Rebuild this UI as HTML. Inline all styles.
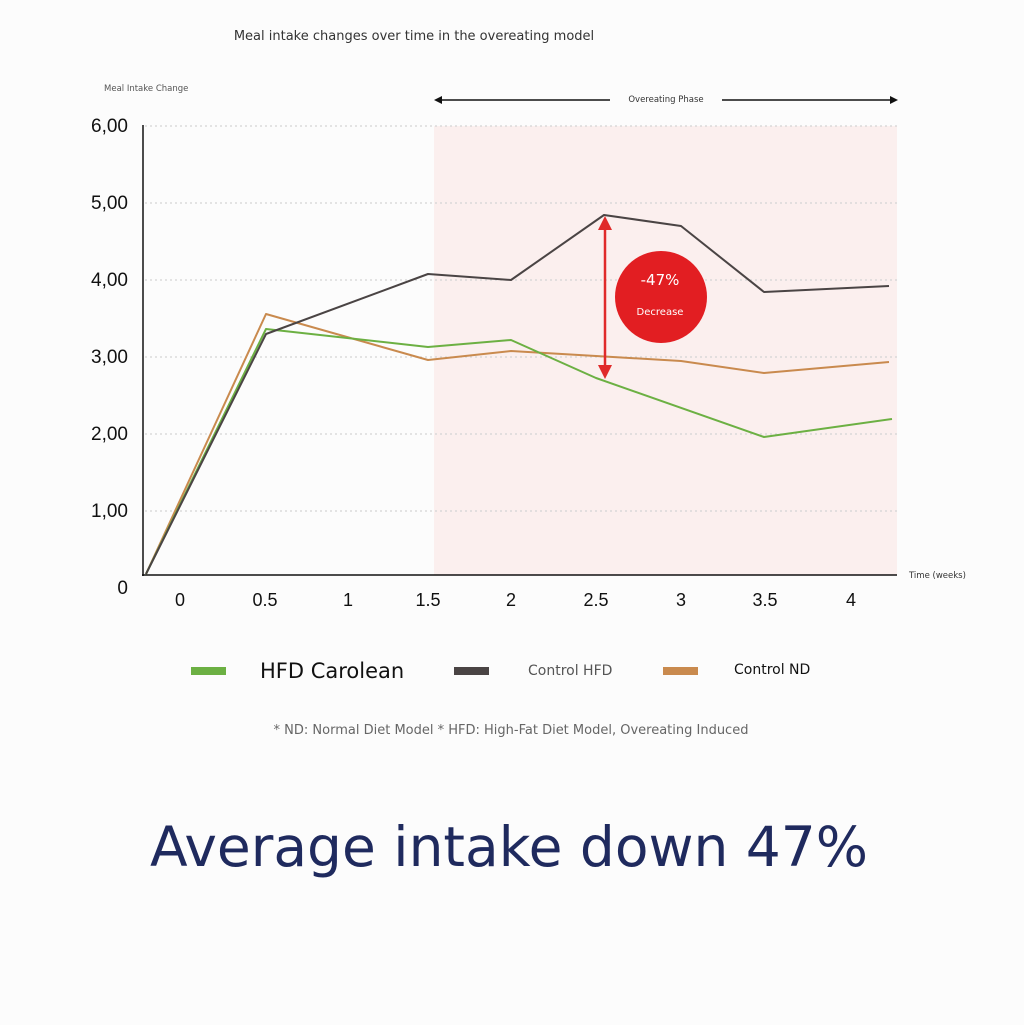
<!DOCTYPE html>
<html><head><meta charset="utf-8"><style>
html,body{margin:0;padding:0;background:#fcfcfc;}
svg{display:block;font-family:"Liberation Sans","DejaVu Sans",sans-serif;}
</style></head><body>
<svg width="1024" height="1025" viewBox="0 0 1024 1025" xmlns="http://www.w3.org/2000/svg">
<rect width="1024" height="1025" fill="#fcfcfc"/>
<text x="414" y="40" font-size="13" fill="#333" text-anchor="middle" font-family="DejaVu Sans, sans-serif">Meal intake changes over time in the overeating model</text>
<text x="104" y="91" font-size="8.5" fill="#555" font-family="DejaVu Sans, sans-serif">Meal Intake Change</text>
<line x1="438" y1="100" x2="610" y2="100" stroke="#111" stroke-width="1.5"/>
<line x1="722" y1="100" x2="893" y2="100" stroke="#111" stroke-width="1.5"/>
<polygon points="434,100 442,96 442,104" fill="#111"/>
<polygon points="898,100 890,96 890,104" fill="#111"/>
<text x="666" y="102" font-size="8.5" fill="#333" text-anchor="middle" font-family="DejaVu Sans, sans-serif">Overeating Phase</text>
<rect x="434" y="126" width="463" height="449" fill="#fbefee"/>
<g stroke="#d4d4d4" stroke-width="1.2" stroke-dasharray="2,3">
<line x1="145" y1="126" x2="897" y2="126"/>
<line x1="145" y1="203" x2="897" y2="203"/>
<line x1="145" y1="280" x2="897" y2="280"/>
<line x1="145" y1="357" x2="897" y2="357"/>
<line x1="145" y1="434" x2="897" y2="434"/>
<line x1="145" y1="511" x2="897" y2="511"/>
</g>
<line x1="143" y1="125" x2="143" y2="576" stroke="#111" stroke-width="1.5"/>
<line x1="142" y1="575" x2="897" y2="575" stroke="#111" stroke-width="1.5"/>
<g font-size="19" fill="#111" text-anchor="end">
<text x="128" y="132">6,00</text>
<text x="128" y="209">5,00</text>
<text x="128" y="286">4,00</text>
<text x="128" y="363">3,00</text>
<text x="128" y="440">2,00</text>
<text x="128" y="517">1,00</text>
<text x="128" y="594">0</text>
</g>
<g font-size="18" fill="#111" text-anchor="middle">
<text x="180" y="606">0</text>
<text x="265" y="606">0.5</text>
<text x="348" y="606">1</text>
<text x="428" y="606">1.5</text>
<text x="511" y="606">2</text>
<text x="596" y="606">2.5</text>
<text x="681" y="606">3</text>
<text x="765" y="606">3.5</text>
<text x="851" y="606">4</text>
</g>
<text x="909" y="578" font-size="8.5" fill="#333" font-family="DejaVu Sans, sans-serif">Time (weeks)</text>
<g fill="none" stroke-width="2" stroke-linejoin="round">
<polyline stroke="#c98a4e" points="146,574 266,314 428,360 511,351 596,356 681,361 764,373 889,362"/>
<polyline stroke="#6cb043" points="146,574 266,329 428,347 511,340 596,378 764,437 892,419"/>
<polyline stroke="#4a4444" points="146,574 266,334 428,274 511,280 604,215 681,226 764,292 889,286"/>
</g>
<line x1="605" y1="226" x2="605" y2="368" stroke="#e02a2a" stroke-width="2.5"/>
<polygon points="605,216 598,230 612,230" fill="#e02a2a"/>
<polygon points="605,379 598,365 612,365" fill="#e02a2a"/>
<circle cx="661" cy="297" r="46" fill="#e21e22"/>
<text x="660" y="285" font-size="15" fill="#fff" text-anchor="middle" font-family="DejaVu Sans, sans-serif">-47%</text>
<text x="660" y="315" font-size="10" fill="#fff" text-anchor="middle" font-family="DejaVu Sans, sans-serif">Decrease</text>
<rect x="191" y="667" width="35" height="8" fill="#6cb043"/>
<text x="260" y="678" font-size="21" fill="#111" font-family="DejaVu Sans, sans-serif">HFD Carolean</text>
<rect x="454" y="667" width="35" height="8" fill="#4a4444"/>
<text x="528" y="675" font-size="14" fill="#555" font-family="DejaVu Sans, sans-serif">Control HFD</text>
<rect x="663" y="667" width="35" height="8" fill="#c98a4e"/>
<text x="734" y="674" font-size="14" fill="#111" font-family="DejaVu Sans, sans-serif">Control ND</text>
<text x="511" y="734" font-size="13" fill="#666" text-anchor="middle" font-family="DejaVu Sans, sans-serif">* ND: Normal Diet Model * HFD: High-Fat Diet Model, Overeating Induced</text>
<text x="509" y="866" font-size="55" fill="#1f2a5e" text-anchor="middle" font-family="DejaVu Sans, sans-serif">Average intake down 47%</text>
</svg>
</body></html>
